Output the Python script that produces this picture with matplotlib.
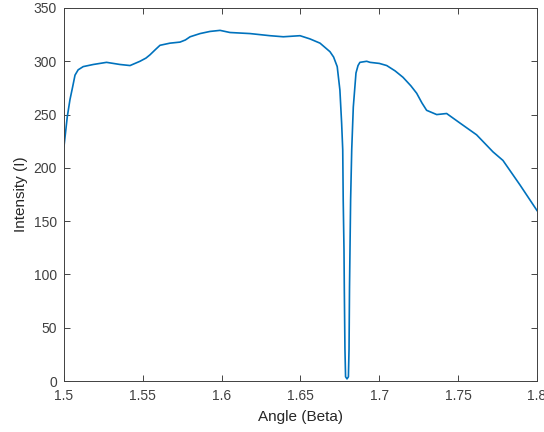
import matplotlib
matplotlib.use("Agg")
import matplotlib.pyplot as plt

# values
angle = [1.5000, 1.5021, 1.5038, 1.5055, 1.5070, 1.5090, 1.5122, 1.5186,
         1.5270, 1.5355, 1.5419, 1.5482, 1.5520, 1.5545, 1.5580, 1.5609,
         1.5672, 1.5736, 1.5770, 1.5800, 1.5863, 1.5926, 1.5990, 1.6053,
         1.6180, 1.6307, 1.6391, 1.6497, 1.6560, 1.6624, 1.6687, 1.6710,
         1.6733, 1.6750, 1.6761, 1.6768, 1.6771, 1.6776, 1.6778, 1.6782,
         1.6786, 1.6795, 1.6804, 1.6808, 1.6811, 1.6818, 1.6825, 1.6835,
         1.6852, 1.6865, 1.6877, 1.6920, 1.6941, 1.7000, 1.7047, 1.7100,
         1.7150, 1.7200, 1.7237, 1.7270, 1.7300, 1.7364, 1.7427, 1.7512,
         1.7617, 1.7721, 1.7784, 1.7892, 1.8000]
intensity = [220, 248, 264, 276, 287, 292, 295, 297,
             299, 297, 296, 300, 303, 306, 311, 315,
             317, 318, 320, 323, 326, 328, 329, 327,
             326, 324, 323, 324, 321, 317, 309, 304,
             295, 273, 242, 217, 170, 123, 87, 30,
             4, 2, 4, 30, 88, 170, 217, 257,
             289, 296, 299, 300, 299, 298, 296, 291,
             285, 277, 270, 261, 254, 250, 251, 242,
             231, 215, 207, 184, 160]

plt.rcParams['font.family'] = ['Liberation Sans', 'DejaVu Sans']

fig = plt.figure(figsize=(5.44, 4.32), dpi=100)
ax = fig.add_axes([0.1176, 0.118, 0.8695, 0.8635])

ax.plot(angle, intensity, color='#0072BD', linewidth=1.2)

ax.set_xlim(1.5, 1.8)
ax.set_ylim(0, 350)
ax.set_xticks([1.5, 1.55, 1.6, 1.65, 1.7, 1.75, 1.8])
ax.set_xticklabels(['1.5', '1.55', '1.6', '1.65', '1.7', '1.75', '1.8'])
ax.set_yticks(range(0, 351, 50))

ax.tick_params(direction='in', top=True, right=True, length=4,
               width=0.6, colors='#262626', labelsize=10, labelcolor='#404040')
ax.tick_params(axis='x', pad=6)
ax.tick_params(axis='y', pad=5)
for s in ax.spines.values():
    s.set_color('#404040')
    s.set_linewidth(0.7)

ax.set_xlabel('Angle (Beta)', fontsize=11, color='#262626', labelpad=5)
ax.set_ylabel('Intensity (I)', fontsize=11, color='#262626', labelpad=4)

fig.savefig('out.png', dpi=100)
